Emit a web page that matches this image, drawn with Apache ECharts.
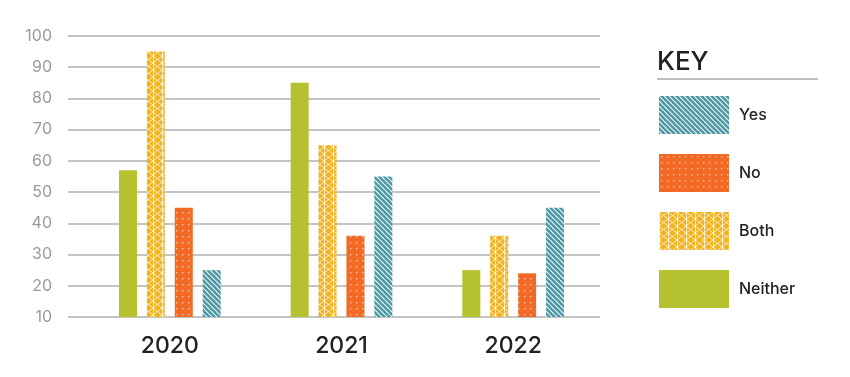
<!DOCTYPE html>
<html><head><meta charset="utf-8">
<script src="https://cdn.jsdelivr.net/npm/echarts@6/dist/echarts.min.js"></script>
<style>html,body{margin:0;padding:0;background:#fff}#c{width:850px;height:377px}</style>
</head><body><div id="c"></div>
<script>
const categories = ['2020', '2021', '2022'];
const neither = [57, 85, 25];
const both = [95, 65, 36];
const no = [45, 36, 24];
const yes = [25, 55, 45];
const yTicks = [10, 100, 10]; // min, max, interval
const legendOrder = ['Yes', 'No', 'Both', 'Neither'];

function makePattern(w, h, draw) {
  const c = document.createElement('canvas');
  c.width = w; c.height = h;
  const ctx = c.getContext('2d');
  draw(ctx, w, h);
  return { image: c, repeat: 'repeat' };
}
const yesFill = makePattern(5, 5, (ctx, w, h) => {
  ctx.fillStyle = '#4b97a3'; ctx.fillRect(0, 0, w, h);
  ctx.strokeStyle = 'rgba(255,255,255,0.9)'; ctx.lineWidth = 1.2;
  for (let k = -2; k <= 2; k++) {
    ctx.beginPath(); ctx.moveTo(k * w, 0); ctx.lineTo(k * w + w, h); ctx.stroke();
  }
});
const noFill = makePattern(6, 6, (ctx, w, h) => {
  ctx.fillStyle = '#f26a25'; ctx.fillRect(0, 0, w, h);
  ctx.fillStyle = 'rgba(255,255,255,0.6)'; ctx.fillRect(2, 2, 1.4, 1.4);
});
const bothFill = makePattern(9, 14, (ctx, w, h) => {
  ctx.fillStyle = '#f2b21c'; ctx.fillRect(0, 0, w, h);
  ctx.strokeStyle = 'rgba(255,255,255,0.75)'; ctx.lineWidth = 1;
  ctx.beginPath(); ctx.moveTo(0.5, 0); ctx.lineTo(0.5, h); ctx.stroke();
  ctx.beginPath(); ctx.moveTo(0, 0); ctx.lineTo(w, h / 2); ctx.lineTo(0, h); ctx.stroke();
  ctx.beginPath(); ctx.moveTo(w, 0); ctx.lineTo(0, h / 2); ctx.lineTo(w, h); ctx.stroke();
});

const chart = echarts.init(document.getElementById('c'), null, { renderer: 'canvas' });
const FONT = 'Inter, "Noto Sans", sans-serif';
function bar(name, data, color) {
  return { name, type: 'bar', data, xAxisIndex: 1, yAxisIndex: 1, barWidth: 18, barGap: '55%',
    itemStyle: { color }, emphasis: { disabled: true } };
}
chart.setOption({
  animation: false,
  title: { text: 'KEY', left: 657, top: 49, padding: 0, textStyle: { fontFamily: FONT, fontSize: 26, fontWeight: 500, color: '#222' } },
  graphic: [{ type: 'rect', shape: { x: 657, y: 78, width: 161, height: 2 }, style: { fill: '#bdbdbd' } }],
  legend: {
    data: legendOrder, orient: 'vertical', left: 659, top: 96, padding: 0, itemWidth: 70, itemHeight: 38, itemGap: 20,
    icon: 'rect', selectedMode: false,
    textStyle: { fontFamily: FONT, fontSize: 16, fontWeight: 500, color: '#222', padding: [0, 0, 0, 5] }
  },
  grid: [
    { left: 68, right: 250, top: 36, bottom: 60 },
    { left: 84, right: 251, top: 36, bottom: 60 }
  ],
  xAxis: [
    { type: 'category', data: [''], gridIndex: 0, show: false },
    { type: 'category', data: categories, gridIndex: 1,
      axisLine: { show: false }, axisTick: { show: false },
      axisLabel: { margin: 18, fontFamily: FONT, fontSize: 23, fontWeight: 500, color: '#222' } }
  ],
  yAxis: [
    { type: 'value', gridIndex: 0, min: yTicks[0], max: yTicks[1], interval: yTicks[2],
      axisLine: { show: false }, axisTick: { show: false },
      axisLabel: { margin: 16, fontFamily: FONT, fontSize: 16, color: '#9a9a9a' },
      splitLine: { lineStyle: { color: '#c4c4c4', width: 2 } } },
    { type: 'value', gridIndex: 1, min: yTicks[0], max: yTicks[1], interval: yTicks[2], show: false,
      splitLine: { show: false } }
  ],
  series: [
    bar('Neither', neither, '#b5c12f'),
    bar('Both', both, bothFill),
    bar('No', no, noFill),
    bar('Yes', yes, yesFill)
  ]
});
</script></body></html>
